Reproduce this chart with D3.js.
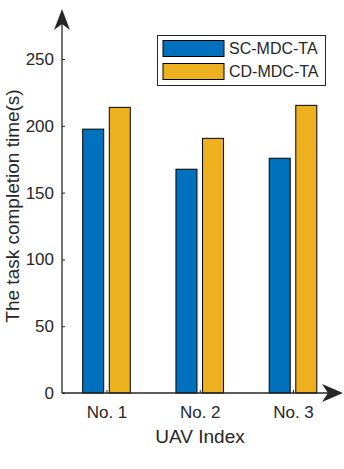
<!DOCTYPE html>
<html>
<head>
<meta charset="utf-8">
<script src="https://cdn.jsdelivr.net/npm/d3@7"></script>
<style>
  body { margin: 0; background: #fff; }
  svg { display: block; font-family: "Liberation Sans", Arial, sans-serif; }
</style>
</head>
<body>
<svg class="chart" width="344" height="469"></svg>
<script>
const categories = ['No. 1', 'No. 2', 'No. 3'];
const seriesNames = ['SC-MDC-TA', 'CD-MDC-TA'];
const scValues = [197.5, 167.5, 175.7];
const cdValues = [213.8, 190.6, 215.3];
const yTicks = [0, 50, 100, 150, 200, 250];
const colors = ['#0072BD', '#EDB120'];

const svg = d3.select('.chart');
const axisColor = '#262626';

// x in "category units" like matlab, 1..3
const x = d3.scaleLinear().domain([1, 3]).range([106.5, 293]);
const y = d3.scaleLinear().domain([0, 250]).range([393, 59]);
const x0 = 62;

const barW = 21, offset = 13.3;

const data = categories.map((c, i) => ({cat: c, i: i + 1, vals: [scValues[i], cdValues[i]]}));

const groups = svg.selectAll('g.grp')
    .data(data)
    .enter().append('g')
    .attr('class', 'grp');

groups.selectAll('rect')
    .data(d => d.vals.map((v, k) => ({i: d.i, v: v, k: k})))
    .enter().append('rect')
    .attr('x', d => x(d.i) + (d.k === 0 ? -offset : offset) - barW / 2)
    .attr('y', d => y(d.v))
    .attr('width', barW)
    .attr('height', d => y(0) - y(d.v))
    .attr('fill', d => colors[d.k])
    .attr('stroke', '#000')
    .attr('stroke-width', 1);

// y axis with inward ticks
const yAxis = svg.append('g')
    .attr('transform', `translate(${x0},0)`)
    .call(d3.axisLeft(y).tickValues(yTicks).tickSizeInner(-3).tickSizeOuter(0).tickPadding(8));
yAxis.select('.domain').remove();
yAxis.selectAll('line').attr('stroke', axisColor);
yAxis.selectAll('text')
    .attr('fill', axisColor)
    .style('font-size', '17px')
    .style('font-family', '"Liberation Sans", Arial, sans-serif');

// x axis with inward ticks
const xAxis = svg.append('g')
    .attr('transform', `translate(0,${y(0)})`)
    .call(d3.axisBottom(x).tickValues([1, 2, 3]).tickFormat((d, i) => categories[i])
        .tickSizeInner(-3).tickSizeOuter(0).tickPadding(13));
xAxis.select('.domain').remove();
xAxis.selectAll('line').attr('stroke', axisColor);
xAxis.selectAll('text')
    .attr('fill', axisColor)
    .style('font-size', '17px')
    .style('font-family', '"Liberation Sans", Arial, sans-serif');

// axis lines with arrows
svg.append('line')
    .attr('x1', x0).attr('y1', y(0)).attr('x2', x0).attr('y2', 14)
    .attr('stroke', axisColor).attr('stroke-width', 1.3);
svg.append('line')
    .attr('x1', x0).attr('y1', y(0)).attr('x2', 338).attr('y2', y(0))
    .attr('stroke', axisColor).attr('stroke-width', 1.3);

svg.append('path')
    .attr('d', `M${x0},9 L${x0 + 8},30 L${x0},24 L${x0 - 8},30 Z`)
    .attr('fill', axisColor);
svg.append('path')
    .attr('d', `M343,${y(0)} L322,${y(0) - 9} L328,${y(0)} L322,${y(0) + 9} Z`)
    .attr('fill', axisColor);

// labels
svg.append('text')
    .attr('x', 200).attr('y', 443)
    .attr('text-anchor', 'middle')
    .attr('fill', axisColor)
    .style('font-size', '19px')
    .text('UAV Index');

svg.append('text')
    .attr('transform', 'translate(19,206) rotate(-90)')
    .attr('text-anchor', 'middle')
    .attr('fill', axisColor)
    .style('font-size', '19px')
    .text('The task completion time(s)');

// legend
const legend = svg.append('g');
legend.append('rect')
    .attr('x', 157.5).attr('y', 35.5).attr('width', 168).attr('height', 50)
    .attr('fill', '#fff').attr('stroke', axisColor).attr('stroke-width', 1);
seriesNames.forEach((name, k) => {
    legend.append('rect')
        .attr('x', 163).attr('y', 40.5 + k * 23).attr('width', 61).attr('height', 16)
        .attr('fill', colors[k]).attr('stroke', '#000').attr('stroke-width', 1);
    legend.append('text')
        .attr('x', 229).attr('y', 48.5 + k * 23)
        .attr('dy', '0.35em')
        .attr('fill', axisColor)
        .style('font-size', '16px')
        .text(name);
});
</script>
</body>
</html>
